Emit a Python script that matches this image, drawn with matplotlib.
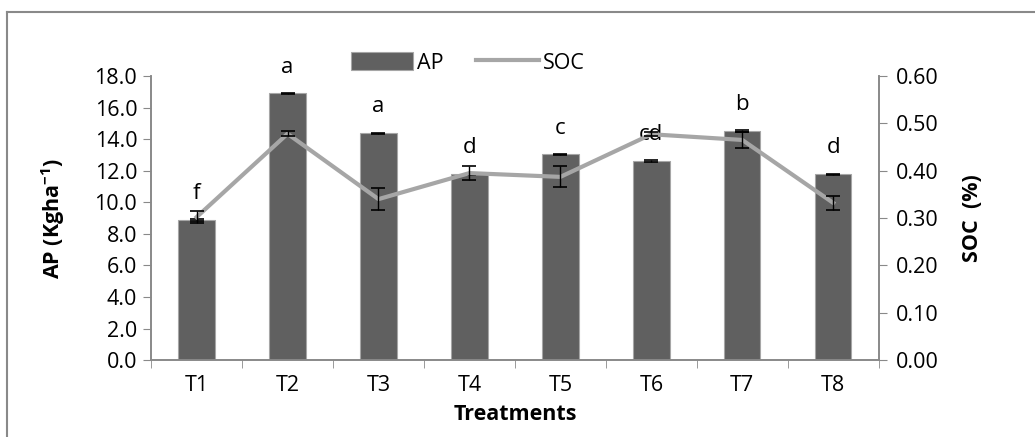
import matplotlib
matplotlib.use("Agg")
import matplotlib.pyplot as plt
from matplotlib.lines import Line2D
import numpy as np

plt.rcParams['font.family'] = ['Open Sans', 'DejaVu Sans']
plt.rcParams['mathtext.fontset'] = 'custom'
plt.rcParams['mathtext.rm'] = 'Open Sans'
plt.rcParams['mathtext.bf'] = 'Open Sans:bold'

# Data
treatments = ['T1', 'T2', 'T3', 'T4', 'T5', 'T6', 'T7', 'T8']
ap = [8.87, 16.9, 14.37, 11.77, 13.03, 12.61, 14.51, 11.77]
ap_err = [0.05, 0.05, 0.05, 0.05, 0.05, 0.05, 0.05, 0.05]
soc = [0.302, 0.478, 0.340, 0.395, 0.387, 0.477, 0.465, 0.332]
soc_err = [0.013, 0.005, 0.023, 0.015, 0.022, 0.004, 0.016, 0.015]
letters = ['f', 'a', 'a', 'd', 'c', 'cd', 'b', 'd']

axis_grey = '#898989'
fs = 15.5

fig = plt.figure(figsize=(10.35, 4.37), dpi=100)
ax = fig.add_axes([0.146, 0.176, 0.703, 0.65])
ax2 = ax.twinx()

x = np.arange(len(treatments))
bars = ax.bar(x, ap, width=0.4, color='#606060', edgecolor='#a6a6a6', linewidth=0.8,
              label='AP', zorder=2)
ax.errorbar(x, ap, yerr=ap_err, fmt='none', ecolor='black', elinewidth=1,
            capsize=5, capthick=1.2, zorder=3)

ax2.plot(x, soc, color='#a6a6a6', lw=3, label='SOC', zorder=4)
ax2.errorbar(x, soc, yerr=soc_err, fmt='none', ecolor='black', elinewidth=1,
             capsize=5, capthick=1.2, zorder=5)

for xi, h, lab in zip(x, ap, letters):
    ax.annotate(lab, (xi, h), xytext=(0, 19), textcoords='offset points',
                ha='center', va='center', fontsize=fs + 0.5)

ax.set_xlim(-0.5, len(treatments) - 0.5)
ax.set_ylim(0, 18)
ax.set_yticks(np.arange(0, 18.1, 2))
ax.set_yticklabels([f'{v:.1f}' for v in np.arange(0, 18.1, 2)])
ax2.set_ylim(0, 0.6)
ax2.set_yticks(np.arange(0, 0.61, 0.1))
ax2.set_yticklabels([f'{v:.2f}' for v in np.arange(0, 0.61, 0.1)])

ax.set_xticks(x)
ax.set_xticklabels(treatments)
ax.set_xticks(np.arange(-0.5, len(treatments), 1), minor=True)
ax.tick_params(axis='x', which='major', length=0, pad=11, labelsize=fs)
ax.tick_params(axis='x', which='minor', length=6, color=axis_grey, direction='out')
ax.tick_params(axis='y', length=6, color=axis_grey, labelsize=fs, pad=4)
ax2.tick_params(axis='y', length=6, color=axis_grey, labelsize=fs, pad=6)

for a in (ax, ax2):
    a.spines['top'].set_visible(False)
    for s in ('left', 'right', 'bottom'):
        a.spines[s].set_color(axis_grey)
        a.spines[s].set_linewidth(1.2)
ax.patch.set_visible(False)

ax.set_ylabel(r'AP (Kgha$^{\mathbf{-1}}$)', fontsize=fs, fontweight='bold')
ax.yaxis.set_label_coords(-0.115, 0.5)
ax2.set_ylabel('SOC  (%)', fontsize=fs, fontweight='bold')
ax2.yaxis.set_label_coords(1.114, 0.5)
ax.set_xlabel('Treatments', fontsize=fs, fontweight='bold')
ax.xaxis.set_label_coords(0.5, -0.155)

handles = [bars, Line2D([], [], color='#a6a6a6', lw=3)]
fig.legend(handles, ['AP', 'SOC'], loc='center', bbox_to_anchor=(0.452, 0.856),
           ncol=2, frameon=False, fontsize=fs, handlelength=2.9, handleheight=0.9,
           handletextpad=0.2, columnspacing=1.5)

# chart-area border (top and left visible)
fig.add_artist(Line2D([0.007, 1.0], [0.973, 0.973], color=axis_grey, lw=1.5,
                      transform=fig.transFigure))
fig.add_artist(Line2D([0.007, 0.007], [0.0, 0.973], color=axis_grey, lw=1.5,
                      transform=fig.transFigure))

fig.savefig('out.png', dpi=100)
